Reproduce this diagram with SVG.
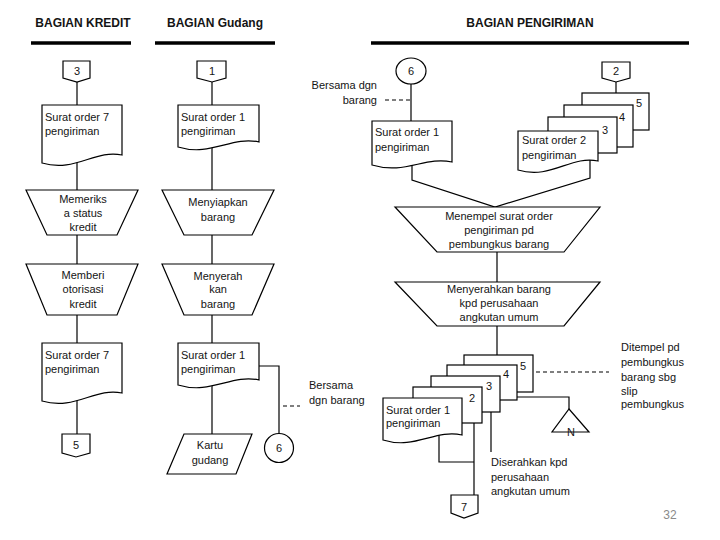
<svg xmlns="http://www.w3.org/2000/svg" width="720" height="540" viewBox="0 0 720 540">
<style>
.s{fill:#fff;stroke:#000;stroke-width:1.2}
.c{fill:none;stroke:#000;stroke-width:1.2}
.d{fill:none;stroke:#000;stroke-width:1.2;stroke-dasharray:4 3}
.bar{stroke:#000;stroke-width:3.5}
text{font-family:"Liberation Sans",Arial,sans-serif;font-size:11px;fill:#141414}
.h{font-size:12px;font-weight:bold;text-anchor:middle}
.m{text-anchor:middle}
.e{text-anchor:end}
</style>
<rect width="720" height="540" fill="#fff"/>
<g id="headers">
<text class="h" x="83" y="27">BAGIAN KREDIT</text>
<line class="bar" x1="31" y1="43" x2="131" y2="43"/>
<text class="h" x="215" y="27">BAGIAN Gudang</text>
<line class="bar" x1="155" y1="43" x2="275" y2="43"/>
<text class="h" x="530" y="27">BAGIAN PENGIRIMAN</text>
<line class="bar" x1="371" y1="43" x2="689" y2="43"/>
</g>
<g id="connectors">
<line class="c" x1="77" y1="82" x2="77" y2="190"/>
<line class="c" x1="77" y1="235" x2="77" y2="264"/>
<line class="c" x1="77" y1="315" x2="77" y2="434"/>
<line class="c" x1="212" y1="82" x2="212" y2="190"/>
<line class="c" x1="212" y1="235" x2="212" y2="264"/>
<line class="c" x1="212" y1="315" x2="212" y2="434"/>
<polyline class="c" points="259,366 279,366 279,434"/>
<line class="d" x1="283" y1="406" x2="300" y2="406"/>
<line class="c" x1="411" y1="84" x2="411" y2="121"/>
<line class="d" x1="385" y1="100" x2="411" y2="100"/>
<line class="c" x1="616" y1="82" x2="616" y2="93"/>
<polyline class="c" points="412,160 412,180 495,207 590,178 590,160"/>
<line class="c" x1="497" y1="252" x2="497" y2="282"/>
<line class="c" x1="497" y1="326" x2="497" y2="355"/>
<polyline class="c" points="517,397 569,397 569,409"/>
<line class="d" x1="536" y1="372" x2="609" y2="372"/>
<line class="c" x1="491" y1="412" x2="491" y2="452"/>
<line class="c" x1="474" y1="423" x2="474" y2="495"/>
<polyline class="c" points="439,435 439,462 474,462"/>
</g>
<g id="n-kredit-3">
<path class="s" d="M63,61 H90 V78 L77,82 L63,78 Z"/>
<text class="m" x="77" y="75">3</text>
</g>
<g id="n-kredit-doc1">
<path class="s" d="M42,105 H122 V155 C95,149 75,173 42,163 Z"/>
<text x="45" y="121">Surat order 7</text>
<text x="45" y="135">pengiriman</text>
</g>
<g id="n-kredit-memeriksa">
<path class="s" d="M26,190 H138 L117,235 H47 Z"/>
<text class="m" x="83" y="203">Memeriks</text>
<text class="m" x="83" y="217">a status</text>
<text class="m" x="83" y="231">kredit</text>
</g>
<g id="n-kredit-otorisasi">
<path class="s" d="M26,264 H138 L117,315 H47 Z"/>
<text class="m" x="83" y="279">Memberi</text>
<text class="m" x="83" y="293">otorisasi</text>
<text class="m" x="83" y="308">kredit</text>
</g>
<g id="n-kredit-doc2">
<path class="s" d="M42,343 H122 V393 C95,387 75,411 42,401 Z"/>
<text x="45" y="359">Surat order 7</text>
<text x="45" y="373">pengiriman</text>
</g>
<g id="n-kredit-5">
<path class="s" d="M62,434 H90 V453 L76,457 L62,453 Z"/>
<text class="m" x="76" y="449">5</text>
</g>
<g id="n-gudang-1">
<path class="s" d="M197,61 H226 V78 L212,82 L197,78 Z"/>
<text class="m" x="212" y="75">1</text>
</g>
<g id="n-gudang-doc1">
<path class="s" d="M178,105 H259 V142 C231,136 211,157 178,147 Z"/>
<text x="181" y="121">Surat order 1</text>
<text x="181" y="135">pengiriman</text>
</g>
<g id="n-gudang-menyiapkan">
<path class="s" d="M162,190 H274 L252,235 H184 Z"/>
<text class="m" x="218" y="206">Menyiapkan</text>
<text class="m" x="218" y="221">barang</text>
</g>
<g id="n-gudang-menyerahkan">
<path class="s" d="M162,264 H274 L252,315 H184 Z"/>
<text class="m" x="218" y="280">Menyerah</text>
<text class="m" x="218" y="293">kan</text>
<text class="m" x="218" y="308">barang</text>
</g>
<g id="n-gudang-doc2">
<path class="s" d="M178,343 H259 V380 C231,374 211,395 178,385 Z"/>
<text x="181" y="359">Surat order 1</text>
<text x="181" y="373">pengiriman</text>
</g>
<g id="n-gudang-kartu">
<path class="s" d="M184,434 H252 L236,474 H167 Z"/>
<text class="m" x="210" y="449">Kartu</text>
<text class="m" x="210" y="464">gudang</text>
</g>
<g id="n-gudang-6">
<circle class="s" cx="279" cy="448" r="14.5"/>
<text class="m" x="279" y="452">6</text>
</g>
<g id="l-bersama-1">
<text x="309" y="389">Bersama</text>
<text x="309" y="404">dgn barang</text>
</g>
<g id="n-kirim-6">
<ellipse class="s" cx="411" cy="71" rx="15" ry="13"/>
<text class="m" x="411" y="75">6</text>
</g>
<g id="l-bersama-2">
<text class="e" x="377" y="89">Bersama dgn</text>
<text class="e" x="377" y="104">barang</text>
</g>
<g id="n-kirim-doc1">
<path class="s" d="M372,121 H452 V162 C425,156 405,175 372,165 Z"/>
<text x="375" y="136">Surat order 1</text>
<text x="375" y="151">pengiriman</text>
</g>
<g id="n-kirim-2">
<path class="s" d="M602,62 H630 V78 L616,82 L602,78 Z"/>
<text class="m" x="616" y="75">2</text>
</g>
<g id="n-kirim-stack-top">
<rect class="s" x="582" y="93" width="67" height="37"/>
<text class="m" x="639" y="107">5</text>
<rect class="s" x="564" y="105" width="69" height="42"/>
<text class="m" x="622" y="121">4</text>
<rect class="s" x="548" y="117" width="69" height="36"/>
<text class="m" x="605" y="134">3</text>
<path class="s" d="M518,131 H598 V161 C571,155 551,180 518,170 Z"/>
<text x="522" y="144">Surat order 2</text>
<text x="522" y="159">pengiriman</text>
</g>
<g id="n-kirim-menempel">
<path class="s" d="M395,207 H600 L564,252 H437 Z"/>
<text class="m" x="499" y="220">Menempel surat order</text>
<text class="m" x="499" y="234">pengiriman pd</text>
<text class="m" x="499" y="248">pembungkus barang</text>
</g>
<g id="n-kirim-menyerahkan">
<path class="s" d="M395,282 H600 L564,326 H437 Z"/>
<text class="m" x="499" y="293">Menyerahkan barang</text>
<text class="m" x="499" y="307">kpd perusahaan</text>
<text class="m" x="499" y="321">angkutan umum</text>
</g>
<g id="n-kirim-stack-bottom">
<rect class="s" x="464" y="355" width="69" height="37"/>
<text class="m" x="523" y="370">5</text>
<rect class="s" x="447" y="365" width="70" height="35"/>
<text class="m" x="506" y="378">4</text>
<rect class="s" x="431" y="376" width="69" height="36"/>
<text class="m" x="489" y="390">3</text>
<rect class="s" x="413" y="387" width="69" height="36"/>
<text class="m" x="472" y="402">2</text>
<path class="s" d="M383,398 H462 V435 C435,429 415,450 383,440 Z"/>
<text x="386" y="414">Surat order 1</text>
<text x="386" y="427">pengiriman</text>
</g>
<g id="n-kirim-N">
<path class="s" d="M569,409 L589,432 H552 Z"/>
<text class="m" x="571" y="436">N</text>
</g>
<g id="l-ditempel">
<text x="621" y="351">Ditempel pd</text>
<text x="621" y="366">pembungkus</text>
<text x="621" y="381">barang sbg</text>
<text x="621" y="395">slip</text>
<text x="621" y="408">pembungkus</text>
</g>
<g id="l-diserahkan">
<text x="491" y="466">Diserahkan kpd</text>
<text x="491" y="481">perusahaan</text>
<text x="491" y="495">angkutan umum</text>
</g>
<g id="n-kirim-7">
<path class="s" d="M451,495 H478 V513 L464,518 L451,513 Z"/>
<text class="m" x="464" y="511">7</text>
</g>
<text x="670" y="519" class="m" style="fill:#8a8a8a;font-size:12px">32</text>
</svg>
